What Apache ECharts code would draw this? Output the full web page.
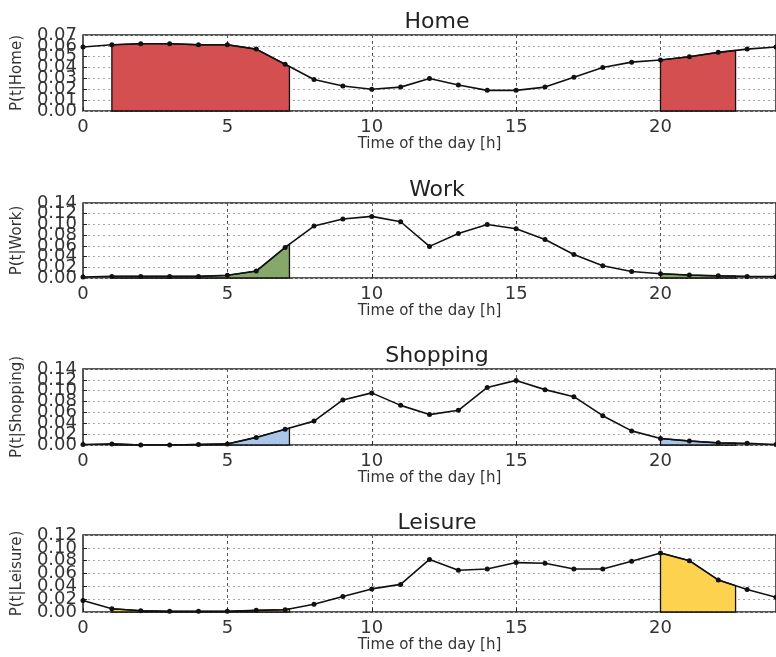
<!DOCTYPE html>
<html>
<head>
<meta charset="utf-8">
<script src="https://cdn.jsdelivr.net/npm/echarts@6/dist/echarts.min.js"></script>
<style>
html,body{margin:0;padding:0;background:#fff;}
#c{width:776px;height:657px;}
</style>
</head>
<body>
<div id="c"></div>
<script>
// ---- data ----
const hours = [0,1,2,3,4,5,6,7,8,9,10,11,12,13,14,15,16,17,18,19,20,21,22,23,24];
const homeP = [0.059,0.061,0.062,0.062,0.061,0.061,0.057,0.043,0.029,0.023,0.020,0.022,0.030,0.024,0.019,0.019,0.022,0.031,0.040,0.045,0.047,0.050,0.054,0.057,0.059];
const workP = [0.002,0.003,0.003,0.003,0.003,0.005,0.013,0.057,0.097,0.110,0.115,0.105,0.059,0.083,0.100,0.092,0.072,0.044,0.023,0.012,0.008,0.0055,0.004,0.003,0.0025];
const shopP = [0.001,0.002,0.000,0.000,0.001,0.002,0.014,0.029,0.044,0.083,0.096,0.073,0.056,0.064,0.106,0.119,0.102,0.089,0.054,0.026,0.012,0.0074,0.004,0.003,0.001];
const leisP = [0.018,0.005,0.002,0.001,0.001,0.001,0.0026,0.0036,0.012,0.024,0.036,0.043,0.082,0.065,0.067,0.077,0.076,0.067,0.067,0.079,0.092,0.080,0.050,0.035,0.023];
const fillRanges = [[1, 7.15], [20, 22.6]];
const panelTitles = ['Home', 'Work', 'Shopping', 'Leisure'];
const yNames = ['P(t|Home)', 'P(t|Work)', 'P(t|Shopping)', 'P(t|Leisure)'];
const yMax = [0.07, 0.14, 0.14, 0.12];
const yStep = [0.01, 0.02, 0.02, 0.02];
const xTitle = 'Time of the day [h]';

// ---- layout / style ----
const panelValues = [homeP, workP, shopP, leisP];
const fillColors = ['#d44f4f', '#86a96b', '#aac5e9', '#fdd24f'];
const gridTops = [35, 203, 369, 535];
const gridHeights = [76, 75, 76, 77];
const titleTops = [6, 174, 340, 507];
const FONT = 'DejaVu Sans';

const chart = echarts.init(document.getElementById('c'), null, {renderer: 'canvas'});

const grids = [], xAxes = [], yAxes = [], series = [], titles = [];
for (let p = 0; p < 4; p++) {
  grids.push({left: 83, top: gridTops[p], width: 701, height: gridHeights[p],
    show: true, borderColor: '#222', borderWidth: 1.5, backgroundColor: 'transparent'});
  titles.push({text: panelTitles[p], left: 432, top: titleTops[p], textAlign: 'center',
    textStyle: {fontFamily: FONT, fontSize: 22, fontWeight: 'normal', color: '#222'}});
  xAxes.push({type: 'value', gridIndex: p, min: 0, max: 24, interval: 5,
    name: xTitle, nameLocation: 'middle', nameGap: 26,
    nameTextStyle: {fontFamily: FONT, fontSize: 15, color: '#333'},
    axisLine: {show: false},
    axisTick: {show: true, inside: true, length: 4, lineStyle: {color: '#222'}},
    axisLabel: {fontFamily: FONT, fontSize: 18, color: '#333', margin: 7, showMaxLabel: false, showMinLabel: true},
    splitLine: {show: true, lineStyle: {color: '#555', type: [3, 3], width: 1}}
  });
  const top = yMax[p], step = yStep[p];
  // main y axis: inner labels, grid lines, name
  yAxes.push({type: 'value', gridIndex: p, position: 'left', offset: 0,
    min: 0, max: top, interval: step,
    name: yNames[p], nameLocation: 'middle', nameGap: 58, nameRotate: 90,
    nameTextStyle: {fontFamily: FONT, fontSize: 15, color: '#333'},
    axisLine: {show: false},
    axisTick: {show: true, inside: true, length: 4, lineStyle: {color: '#222'}},
    axisLabel: {fontFamily: FONT, fontSize: 18, color: '#333', margin: 6,
      showMinLabel: false, showMaxLabel: false,
      formatter: v => v.toFixed(2)},
    splitLine: {show: true, lineStyle: {color: '#aaa', type: [2, 3], width: 1}}
  });
  // overlay y axis: only the end labels
  yAxes.push({type: 'value', gridIndex: p, position: 'left', offset: 0,
    min: 0, max: top, interval: step,
    axisLine: {show: false}, axisTick: {show: false}, splitLine: {show: false},
    axisLabel: {fontFamily: FONT, fontSize: 18, color: '#333', margin: 6,
      showMinLabel: true, showMaxLabel: true,
      formatter: v => (Math.abs(v) < 1e-9 || Math.abs(v - top) < 1e-9) ? v.toFixed(2) : ''}
  });
  const vals = panelValues[p];
  const color = fillColors[p];
  const yi = p * 2;
  series.push({
    type: 'custom', xAxisIndex: p, yAxisIndex: yi, silent: true, z: 2,
    data: fillRanges,
    encode: {x: [0, 1]},
    renderItem: function (params, api) {
      const a = api.value(0), b = api.value(1);
      const pts = hours.map((h, i) => api.coord([h, vals[i]]));
      function at(x) {
        const xpx = api.coord([x, 0])[0];
        for (let i = 0; i < hours.length - 1; i++) {
          if (hours[i] <= x && x <= hours[i + 1]) {
            const p0 = pts[i], p1 = pts[i + 1];
            const t = (xpx - p0[0]) / (p1[0] - p0[0]);
            return [xpx, p0[1] + t * (p1[1] - p0[1])];
          }
        }
        return pts[pts.length - 1];
      }
      const poly = [api.coord([a, 0]), at(a)];
      hours.forEach((h, i) => { if (h > a && h < b) poly.push(pts[i]); });
      poly.push(at(b));
      poly.push(api.coord([b, 0]));
      return {type: 'polygon', shape: {points: poly},
        style: {fill: color, stroke: '#111', lineWidth: 1.3}};
    }
  });
  series.push({
    type: 'line', xAxisIndex: p, yAxisIndex: yi, silent: true, z: 5,
    data: hours.map((h, i) => [h, vals[i]]),
    symbol: 'circle', symbolSize: 5, showSymbol: true,
    lineStyle: {color: '#111', width: 1.6},
    itemStyle: {color: '#111'},
    animation: false
  });
}

chart.setOption({
  animation: false,
  backgroundColor: '#fff',
  title: titles,
  grid: grids,
  xAxis: xAxes,
  yAxis: yAxes,
  series: series
});
</script>
</body>
</html>
